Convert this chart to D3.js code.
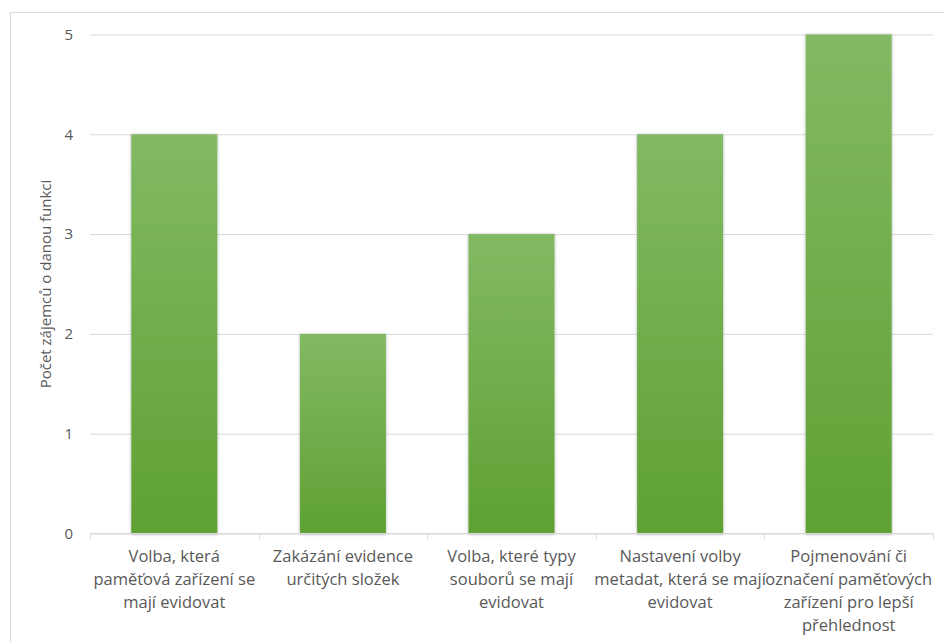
<!DOCTYPE html>
<html>
<head>
<meta charset="utf-8">
<script src="https://cdn.jsdelivr.net/npm/d3@7"></script>
<style>
  html, body { margin: 0; padding: 0; background: #fff; }
  svg { display: block; font-family: "Open Sans", "Noto Sans", sans-serif; }
</style>
</head>
<body>
<svg width="944" height="642"></svg>
<script>
// kategorie (rozdělené do řádků jako v grafu)
const categories = [
  ['Volba, která', 'paměťová zařízení se', 'mají evidovat'],
  ['Zakázání evidence', 'určitých složek'],
  ['Volba, které typy', 'souborů se mají', 'evidovat'],
  ['Nastavení volby', 'metadat, která se mají', 'evidovat'],
  ['Pojmenování či', 'označení paměťových', 'zařízení pro lepší', 'přehlednost']
]
const values = [4, 2, 3, 4, 5]
const yTicks = [0, 1, 2, 3, 4, 5]
const yTitle = 'Počet zájemců o danou funkci'

const svg = d3.select('svg')

// okraj grafu
svg.append('rect')
  .attr('x', 10.5).attr('y', 12.5)
  .attr('width', 960).attr('height', 660)
  .attr('fill', 'none')
  .attr('stroke', '#d9d9d9')

const defs = svg.append('defs')
const grad = defs.append('linearGradient')
  .attr('id', 'barGrad')
  .attr('x1', 0).attr('y1', 0).attr('x2', 0).attr('y2', 1)
grad.append('stop').attr('offset', '0%').attr('stop-color', '#82b963')
grad.append('stop').attr('offset', '100%').attr('stop-color', '#5fa133')

const shadow = defs.append('filter').attr('id', 'shadow')
  .attr('x', '-10%').attr('y', '-10%').attr('width', '120%').attr('height', '120%')
shadow.append('feDropShadow')
  .attr('dx', 0).attr('dy', 0.5)
  .attr('stdDeviation', 1.5)
  .attr('flood-color', '#000')
  .attr('flood-opacity', 0.35)

const x = d3.scaleBand()
  .domain(d3.range(categories.length))
  .range([90, 933])
  .paddingInner(0.49)
  .paddingOuter(0.245)

const y = d3.scaleLinear()
  .domain([0, 5])
  .range([533.5, 34.5])

// mřížka
svg.append('g')
  .attr('transform', 'translate(90,0)')
  .call(d3.axisLeft(y).tickValues(yTicks).tickSize(-843).tickFormat(''))
  .call(g => g.select('.domain').remove())
  .call(g => g.selectAll('.tick line').attr('stroke', '#d9d9d9'))

// popisky osy y
svg.append('g')
  .selectAll('text')
  .data(yTicks)
  .join('text')
  .attr('x', 73)
  .attr('y', d => y(d))
  .attr('dy', '0.35em')
  .attr('text-anchor', 'end')
  .attr('fill', '#595959')
  .attr('font-size', 15)
  .text(d => d)

// sloupce
svg.append('g')
  .selectAll('rect')
  .data(values)
  .join('rect')
  .attr('x', (d, i) => x(i))
  .attr('y', d => y(d))
  .attr('width', x.bandwidth())
  .attr('height', d => y(0) - y(d))
  .attr('fill', 'url(#barGrad)')
  .attr('filter', 'url(#shadow)')

// osa x
const step = x.step()
const bounds = d3.range(categories.length + 1).map(i => 90 + i * step)
svg.append('line')
  .attr('x1', 90).attr('x2', 933)
  .attr('y1', 533.5).attr('y2', 533.5)
  .attr('stroke', '#d9d9d9')
svg.append('g')
  .selectAll('line')
  .data(bounds)
  .join('line')
  .attr('x1', d => Math.round(d) + 0.5).attr('x2', d => Math.round(d) + 0.5)
  .attr('y1', 533.5).attr('y2', 539)
  .attr('stroke', '#d9d9d9')

// popisky kategorií
const labels = svg.append('g')
  .selectAll('text')
  .data(categories)
  .join('text')
  .attr('text-anchor', 'middle')
  .attr('fill', '#595959')
  .attr('font-size', 16.5)
labels.selectAll('tspan')
  .data((d, i) => d.map(line => ({ line, i })))
  .join('tspan')
  .attr('x', d => x(d.i) + x.bandwidth() / 2)
  .attr('y', (d, j) => 562 + j * 23)
  .text(d => d.line)

// název osy y
svg.append('text')
  .attr('transform', 'translate(51,284) rotate(-90)')
  .attr('text-anchor', 'middle')
  .attr('fill', '#595959')
  .attr('font-size', 15)
  .text(yTitle)
</script>
</body>
</html>
